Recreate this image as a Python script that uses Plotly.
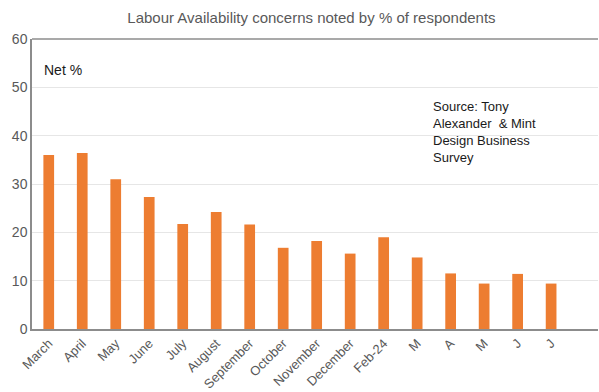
import plotly.graph_objects as go

# Monthly net % of respondents citing labour availability as a concern
months = ["March", "April", "May", "June", "July", "August", "September",
          "October", "November", "December", "Feb-24", "M", "A", "M", "J", "J"]
net_pct = [36.0, 36.4, 31.0, 27.3, 21.7, 24.2, 21.6, 16.8, 18.2, 15.6,
           19.0, 14.8, 11.5, 9.4, 11.4, 9.4]
y_ticks = [0, 10, 20, 30, 40, 50, 60]

FONT = "Liberation Sans, Arial, sans-serif"
GREY = "#595959"
AXIS = "#8c8c8c"

fig = go.Figure(
    go.Bar(
        x=list(range(len(months))),
        y=net_pct,
        marker=dict(color="#ED7D31", line=dict(width=0)),
        width=0.32,
        hoverinfo="y",
    )
)

fig.update_layout(
    width=599,
    height=392,
    margin=dict(l=32, r=1, t=39, b=63, autoexpand=False),
    paper_bgcolor="white",
    plot_bgcolor="white",
    showlegend=False,
    font=dict(family=FONT, size=13, color=GREY),
    title=dict(
        text="Labour Availability concerns noted by % of respondents",
        x=0.52, xanchor="center", y=1 - 18 / 392, yanchor="middle",
        font=dict(family=FONT, size=15, color=GREY),
    ),
    xaxis=dict(
        tickmode="array",
        tickvals=list(range(len(months))),
        ticktext=months,
        tickangle=-45,
        range=[-0.5, 16.4],
        automargin=False,
        showline=True, linecolor=AXIS, linewidth=1.5, mirror=False,
        showgrid=False, zeroline=False, ticks="",
        tickfont=dict(family=FONT, size=13, color=GREY),
    ),
    yaxis=dict(
        range=[0, 60],
        tickvals=y_ticks,
        automargin=False,
        showline=True, linecolor=AXIS, linewidth=1.5, mirror=False,
        showgrid=True, gridcolor="#e6e6e6", gridwidth=1,
        zeroline=False, ticks="", ticklen=0,
        tickfont=dict(family=FONT, size=14, color=GREY),
    ),
    shapes=[
        # top border of the plot frame (no right-hand edge)
        dict(type="line", xref="paper", yref="paper", x0=0, x1=1, y0=1, y1=1,
             line=dict(color=AXIS, width=1.5)),
    ],
    annotations=[
        dict(text="Net %", xref="paper", yref="paper",
             x=10 / 566, y=1 - 31 / 290, xanchor="left", yanchor="middle",
             showarrow=False, font=dict(family=FONT, size=14, color="#1a1a1a")),
        dict(text="Source: Tony<br>Alexander  & Mint<br>Design Business<br>Survey",
             xref="paper", yref="paper", align="left",
             x=(431 - 32) / 566, y=1 - (97 - 39) / 290,
             xanchor="left", yanchor="top", showarrow=False,
             font=dict(family=FONT, size=13, color="#1a1a1a")),
    ],
)

fig.write_html("out.html", config={"displayModeBar": False})
